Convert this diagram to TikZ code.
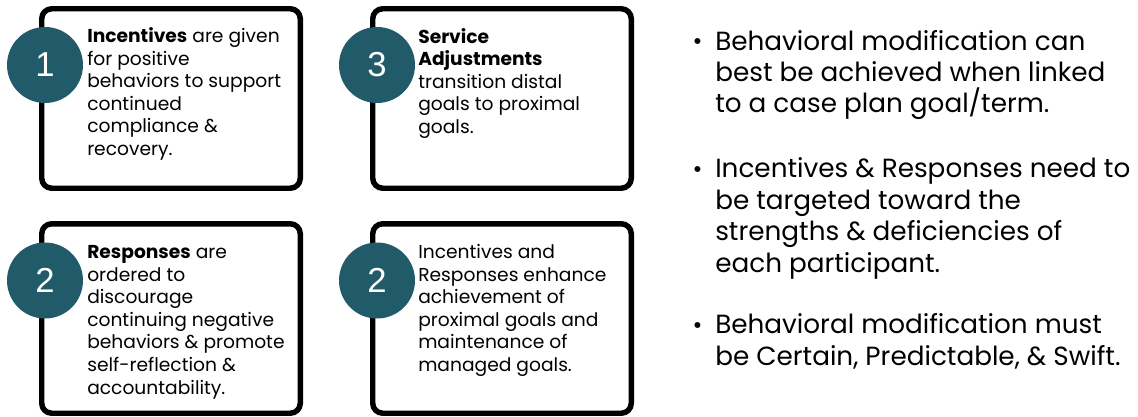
\documentclass[tikz,border=0pt]{standalone}
\usepackage{fontspec}
\setmainfont{Poppins}
\newfontfamily\numfont{Liberation Sans}
\usepackage{tikz}
\usetikzlibrary{positioning}
\definecolor{badgeteal}{HTML}{215A68}
\tikzset{
  card/.style={draw=black, line width=4.1pt, rounded corners=7.5pt, minimum width=193.9pt, inner sep=0pt},
  badge/.style={circle, fill=badgeteal, minimum size=57pt, inner sep=0pt, text=white, font=\numfont\fontsize{26pt}{26pt}\selectfont},
  cardtext/.style={anchor=base west, align=left, inner sep=0pt, font=\fontsize{14pt}{16.9pt}\selectfont},
  pointtext/.style={anchor=base west, align=left, inner sep=0pt, font=\fontsize{19.7pt}{23.6pt}\selectfont},
  pointdot/.style={anchor=base, inner sep=0pt, font=\fontsize{18pt}{23.6pt}\selectfont}
}

\begin{document}
\begin{tikzpicture}[x=0.75pt,y=-0.75pt]
  \useasboundingbox (0,0) rectangle (1138,417);

  % boxes
  \node[card, minimum height=134.6pt] (cardA) at (171,98.5) {};
  \node[card, minimum height=134.6pt] (cardC) at (502,98.5) {};
  \node[card, minimum height=142.1pt] (cardB) at (171,318.5) {};
  \node[card, minimum height=142.1pt] (cardD) at (502,318.5) {};

  % numbers
  \node[badge] (numA) at (45,65) {1};
  \node[badge] (numC) at (377,65) {3};
  \node[badge] (numB) at (45,280.5) {2};
  \node[badge] (numD) at (377,280.5) {2};

  % box texts (anchored at the baseline of the last line)
  \node[cardtext] (textA) at (87,155.5) {\textbf{Incentives} are given\\for positive\\behaviors to support\\continued\\compliance \&\\recovery.};
  \node[cardtext] (textC) at (418,133.5) {\textbf{Service}\\\textbf{Adjustments}\\transition distal\\goals to proximal\\goals.};
  \node[cardtext] (textB) at (87,394) {\textbf{Responses} are\\ordered to\\discourage\\continuing negative\\behaviors \& promote\\self-reflection \&\\accountability.};
  \node[cardtext] (textD) at (418,371.5) {Incentives and\\Responses enhance\\achievement of\\proximal goals and\\maintenance of\\managed goals.};

  % key points
  \node[pointdot] (dotA) at (697.5,50) {•};
  \node[pointtext] (pointA) at (715,113) {Behavioral modification can\\best be achieved when linked\\to a case plan goal/term.};
  \node[pointdot] (dotB) at (697.5,177) {•};
  \node[pointtext] (pointB) at (715,272) {Incentives \& Responses need to\\be targeted toward the\\strengths \& deficiencies of\\each participant.};
  \node[pointdot] (dotC) at (697.5,333) {•};
  \node[pointtext] (pointC) at (715,365) {Behavioral modification must\\be Certain, Predictable, \& Swift.};
\end{tikzpicture}
\end{document}
